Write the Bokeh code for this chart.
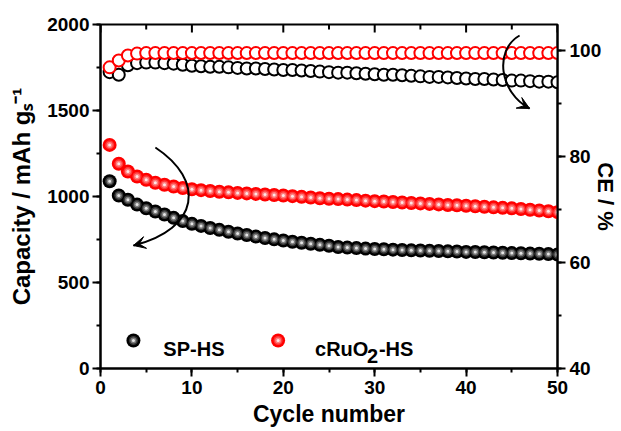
import math
from bokeh.plotting import figure
from bokeh.models import Range1d, LinearAxis, SingleIntervalTicker, Label, Arrow, VeeHead
from bokeh.embed import file_html
from bokeh.resources import INLINE

# ---------------- data ----------------
cycles = list(range(1, 51))

sp_capacity = [1089, 1006, 981, 953, 932, 913, 895, 876, 857, 841,
               829, 817, 806, 795, 785, 776, 767, 759, 751, 744,
               737, 731, 725, 719, 714, 706, 703, 700, 697, 695,
               693, 691, 689, 687, 686, 684, 683, 681, 680, 678,
               677, 676, 674, 673, 671, 670, 668, 667, 665, 663]

ru_capacity = [1300, 1190, 1145, 1116, 1097, 1080, 1068, 1058, 1049, 1042,
               1037, 1032, 1028, 1024, 1021, 1018, 1015, 1012, 1009, 1006,
               1002, 998, 994, 990, 987, 985, 982, 979, 976, 973,
               971, 968, 965, 962, 960, 957, 954, 951, 949, 946,
               943, 940, 937, 934, 931, 927, 923, 919, 914, 909]

sp_ce = [96.0, 95.5, 97.3, 97.7, 97.8, 97.8, 97.7, 97.6, 97.4, 97.2,
         97.1, 97.0, 97.0, 96.9, 96.8, 96.7, 96.7, 96.6, 96.5, 96.4,
         96.4, 96.3, 96.2, 96.1, 96.0, 95.9, 95.9, 95.8, 95.7, 95.6,
         95.5, 95.5, 95.4, 95.3, 95.2, 95.1, 95.1, 95.0, 94.9, 94.8,
         94.7, 94.7, 94.6, 94.5, 94.4, 94.4, 94.3, 94.2, 94.2, 94.1]

ru_ce = [96.9, 98.2, 99.15, 99.5] + [99.6] * 46

x_major_ticks = [0, 10, 20, 30, 40, 50]
x_minor_ticks = [5, 15, 25, 35, 45]

# ---------------- layout helpers (pixel -> data for annotations) ----------------
FL, FR, FT, FB = 100, 558, 24, 368
XMIN, XMAX = 0, 50
YMIN, YMAX = 0, 2000


def dx(px):
    return XMIN + (px - FL) / (FR - FL) * (XMAX - XMIN)


def dy(py):
    return YMIN + (FB - py) / (FB - FT) * (YMAX - YMIN)


def dlen(pxlen):
    return pxlen / (FB - FT) * (YMAX - YMIN)


FONT = "Liberation Sans"

p = figure(width=621, height=431, x_range=Range1d(XMIN, XMAX), y_range=Range1d(YMIN, YMAX),
           output_backend="svg", toolbar_location=None,
           min_border_left=FL, min_border_right=621 - FR, min_border_top=FT, min_border_bottom=431 - FB)
p.xgrid.visible = False
p.ygrid.visible = False
p.outline_line_color = "black"
p.outline_line_width = 2
p.background_fill_color = "white"
p.border_fill_color = "white"
p.extra_y_ranges = {"ce": Range1d(40, 105)}


def style_axis(ax, standoff=4):
    ax.axis_line_width = 2
    ax.axis_line_color = "black"
    ax.major_tick_line_width = 2
    ax.minor_tick_line_width = 2
    ax.major_tick_line_color = "black"
    ax.minor_tick_line_color = "black"
    ax.major_tick_out = 8
    ax.major_tick_in = 0
    ax.minor_tick_out = 4
    ax.minor_tick_in = 0
    ax.major_label_text_font = FONT
    ax.major_label_text_font_style = "bold"
    ax.major_label_text_font_size = "19px"
    ax.major_label_text_color = "black"
    ax.major_label_standoff = standoff
    ax.axis_label_text_font = FONT
    ax.axis_label_text_font_style = "bold"
    ax.axis_label_text_color = "black"


xb = p.xaxis[0]
xb.ticker = SingleIntervalTicker(interval=10, num_minor_ticks=2)
style_axis(xb, standoff=4)
xb.axis_label = "Cycle number"
xb.axis_label_text_font_size = "23px"
xb.axis_label_standoff = 4

yl = p.yaxis[0]
yl.ticker = SingleIntervalTicker(interval=500, num_minor_ticks=2)
style_axis(yl, standoff=3)
yl.axis_label = "Capacity / mAh g\u209b\u207b\u00b9"
yl.axis_label_text_font_size = "24px"
yl.axis_label_standoff = 9

yr = LinearAxis(y_range_name="ce", ticker=SingleIntervalTicker(interval=20, num_minor_ticks=2))
style_axis(yr, standoff=4)
yr.axis_label = "CE / %"
yr.axis_label_text_font_size = "22px"
yr.axis_label_standoff = -11
p.add_layout(yr, "right")

# inward ticks along the top edge
p.segment(x0=x_major_ticks, y0=[YMAX] * len(x_major_ticks),
          x1=x_major_ticks, y1=[YMAX - dlen(8)] * len(x_major_ticks),
          line_color="black", line_width=2)
p.segment(x0=x_minor_ticks, y0=[YMAX] * len(x_minor_ticks),
          x1=x_minor_ticks, y1=[YMAX - dlen(5)] * len(x_minor_ticks),
          line_color="black", line_width=2)

# ---------------- CE (hollow circles) ----------------
p.scatter(cycles, sp_ce, y_range_name="ce", marker="circle", size=12,
          line_color="black", line_width=2, fill_color="white")
p.scatter(cycles, ru_ce, y_range_name="ce", marker="circle", size=12,
          line_color="#ff0000", line_width=2, fill_color="white")


# ---------------- capacity (shaded balls) ----------------
def balls(xs, ys, base):
    p.scatter(xs, ys, marker="circle", size=14, fill_color=base, line_color=None)
    p.scatter(xs, ys, marker="circle", size=9, fill_color="white", fill_alpha=0.22, line_color=None)
    p.scatter(xs, ys, marker="circle", size=6, fill_color="white", fill_alpha=0.35, line_color=None)
    p.scatter(xs, ys, marker="circle", size=3, fill_color="white", fill_alpha=0.8, line_color=None)


balls(cycles, sp_capacity, "black")
balls(cycles, ru_capacity, "#ff0000")

# ---------------- curved arrows ----------------
a1 = dict(s=(155, 147), c0=(205, 180), c1=(200, 228), e=(133, 245))
a2 = dict(s=(520, 35), c0=(494, 50), c1=(500, 92), e=(530, 108))
for a in (a1, a2):
    p.bezier(x0=[dx(a["s"][0])], y0=[dy(a["s"][1])], x1=[dx(a["e"][0])], y1=[dy(a["e"][1])],
             cx0=[dx(a["c0"][0])], cy0=[dy(a["c0"][1])], cx1=[dx(a["c1"][0])], cy1=[dy(a["c1"][1])],
             line_color="black", line_width=2)
    ex, ey = a["e"]
    cx, cy = a["c1"]
    L = math.hypot(ex - cx, ey - cy)
    sx, sy = ex - (ex - cx) / L * 4, ey - (ey - cy) / L * 4
    p.add_layout(Arrow(end=VeeHead(size=12, fill_color="black", line_color="black", line_width=1),
                       x_start=dx(sx), y_start=dy(sy), x_end=dx(ex), y_end=dy(ey),
                       line_width=2, line_color="black"))

# ---------------- legend ----------------
balls([dx(133)], [dy(340)], "black")
balls([dx(278)], [dy(340)], "#ff0000")


def lab(text, px, py, size):
    p.add_layout(Label(x=dx(px), y=dy(py), text=text, text_align="left",
                       text_baseline="alphabetic", text_font=FONT, text_font_style="bold",
                       text_font_size=size, text_color="black"))


lab("SP-HS", 163, 348, "20px")
lab("cRuO", 315, 348, "20px")
lab("2", 367, 355, "20px")
lab("-HS", 379, 348, "20px")

open("out.html", "w").write(file_html(p, INLINE))
